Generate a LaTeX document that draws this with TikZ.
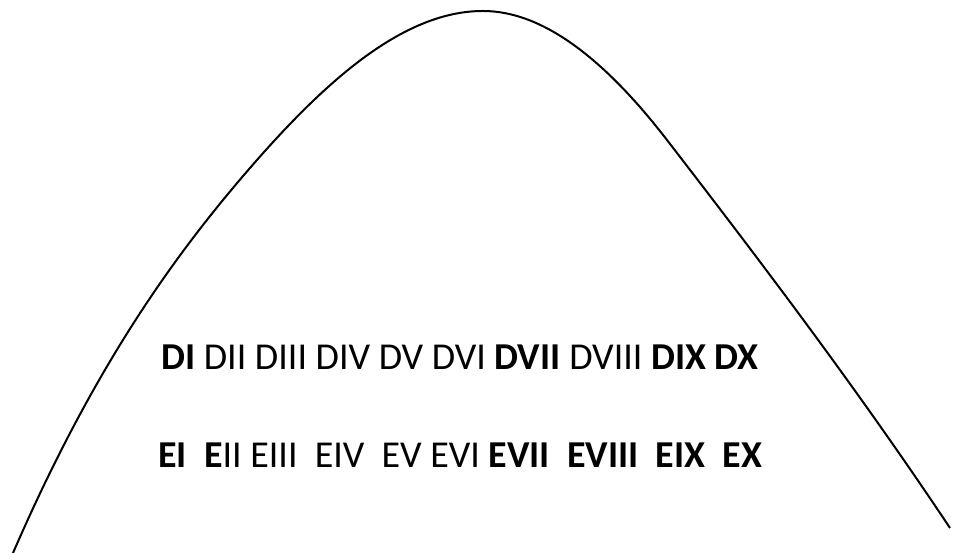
\documentclass[tikz,border=0pt]{standalone}
\usepackage{fontspec}
\setmainfont{Carlito}
\begin{document}
\begin{tikzpicture}[
    x=1pt, y=1pt,
    rowtext/.style={
        anchor=base west,
        inner sep=0pt,
        font=\fontsize{38}{44}\selectfont
    },
    curve/.style={line width=2pt, line join=round}
]
\useasboundingbox (0,0) rectangle (953,553);

% ---------------------------------------------------------------------------
% Bell curve
% ---------------------------------------------------------------------------
\coordinate (footL) at (13,0);
\coordinate (top) at (483,542);
\coordinate (footR) at (950,25);

\draw[curve] (footL) .. controls (92,182) and (171,294) .. (250,385)
    .. controls (328,475) and (405,542) .. (top)
    .. controls (544,542) and (606,492) .. (667,413)
    .. controls (761,291) and (856,166) .. (footR);

% ---------------------------------------------------------------------------
% Rows of labels
% ---------------------------------------------------------------------------
\node[rowtext] (rowD) at (161,183)
    {\textbf{DI} DII DIII DIV DV DVI \textbf{DVII} DVIII \textbf{DIX DX}};

\node[rowtext] (rowE) at (158,85)
    {\textbf{EI}~~\textbf{E}II EIII~~EIV~~EV EVI \textbf{EVII}~~\textbf{EVIII}~~\textbf{EIX}~~\textbf{EX}};

\end{tikzpicture}
\end{document}
